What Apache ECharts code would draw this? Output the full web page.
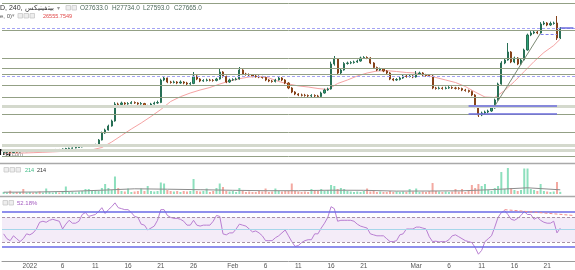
<!DOCTYPE html>
<html><head><meta charset="utf-8">
<script src="https://cdn.jsdelivr.net/npm/echarts/dist/echarts.min.js"></script>
<style>html,body{margin:0;padding:0;background:#fff}#c{width:575px;height:270px}</style>
</head><body><div id="c"></div><script>
// ---- data (12h candles, 28 Dec 2021 .. 23 Mar 2022) ----
const firstOpen = 15195;
const closes = [
15215,15235,15225,15265,15255,15315,15305,15335,15365,15345,
15385,15365,15415,15435,15465,15485,15515,15505,15565,15615,
15645,15665,15715,15765,15865,15915,15935,15965,16015,16465,
17165,17465,17865,18365,20065,20015,20165,20065,20115,20215,
20165,20065,20115,19815,19865,20065,20165,20215,22465,22665,
22265,22215,22265,22165,22265,22165,22065,22115,22865,22565,
22365,22415,22465,22435,22415,22565,23265,22815,22265,22465,
22505,22565,23465,23065,23015,22965,22865,22815,22765,22725,
22465,22365,22315,22465,22665,22465,22165,21665,21265,21065,
20965,20935,20915,20865,20915,20865,20815,21165,21465,21565,
24065,24565,23165,23465,24115,24165,24205,24265,24365,24665,
24715,24665,24165,23715,23465,23565,23365,23165,22565,22465,
22515,22665,22865,22815,22865,22765,23065,23165,22965,22915,
22865,21665,21615,21665,21615,21665,21715,21665,21635,21615,
21465,21415,21315,20965,19765,18965,19165,19265,19365,19665,
20465,22065,24165,24465,25265,24265,24665,24065,24465,25465,
26965,27165,27265,27165,28065,28165,27965,28115,28165,26665,
27665];
const highs = [
15295,15300,15290,15320,15310,15370,15360,15390,15420,15410,
15440,15430,15470,15490,15520,15540,15570,15570,15620,15680,
15700,15720,15780,15830,15930,15980,16000,16030,16090,16560,
17300,17600,18000,18500,20250,20200,20300,20250,20250,20350,
20320,20240,20260,20180,19980,20180,20300,20400,22600,22800,
22700,22380,22400,22350,22420,22350,22280,22250,23265,22950,
22650,22550,22600,22580,22560,22680,23565,23350,22900,22600,
22640,22700,23765,23550,23180,23120,23050,22980,22930,22880,
22800,22550,22480,22580,22800,22750,22550,22250,21750,21350,
21150,21100,21080,21020,21050,21030,20980,21300,21600,21700,
24300,24865,24650,23650,24250,24300,24350,24400,24500,24800,
24850,24830,24750,24250,23800,23700,23650,23450,23250,22650,
22650,22800,23000,22980,23000,22950,23365,23300,23250,23080,
23030,22950,21780,21800,21780,21800,21850,21830,21780,21760,
21700,21580,21500,21400,21050,19850,19300,19400,19500,19800,
20600,22200,24350,24600,26165,25350,24800,24750,24600,25600,
27100,27350,27450,27400,28250,28350,28250,28300,28300,28865,
27765];
const lows = [
15145,15170,15180,15190,15210,15220,15260,15270,15300,15300,
15310,15320,15330,15380,15400,15430,15450,15460,15470,15530,
15580,15600,15630,15680,15730,15820,15870,15890,15920,15980,
16420,17080,17400,17800,18300,19900,19950,19980,19990,20050,
20080,19980,19990,19700,19740,19800,20000,20080,20150,22350,
22150,22100,22120,22050,22080,22040,21950,21980,22050,22450,
22250,22280,22320,22330,22300,22330,22500,22700,22150,22180,
22380,22420,22500,22950,22900,22850,22750,22700,22650,22600,
22350,22250,22200,22220,22400,22350,22050,21550,21150,20950,
20850,20820,20800,20750,20760,20760,20700,20750,21100,21380,
21500,23900,23050,23050,23400,24000,24050,24100,24180,24300,
24580,24550,24050,23600,23350,23380,23250,23050,22450,22350,
22380,22420,22580,22700,22720,22650,22700,22980,22850,22800,
22750,21550,21500,21520,21500,21530,21580,21560,21520,21500,
21350,21300,21200,20850,19650,18765,18850,19050,19150,19280,
19600,20400,22000,24050,24400,24150,24150,23950,23980,24400,
25400,26850,27050,27050,27100,27950,27850,27880,28000,26465,
26565];
const volumes = [
200,150,330,150,200,200,500,150,200,150,
200,250,150,550,200,150,200,150,200,750,
200,200,150,250,300,500,500,300,400,300,
600,1000,600,400,1750,600,300,250,550,200,
250,300,550,300,800,300,250,300,1150,1050,
400,300,250,300,200,300,250,300,1500,300,
250,300,550,200,300,600,1050,700,300,250,
300,200,600,300,200,250,200,200,300,250,
550,200,250,550,300,250,300,300,1050,300,
250,200,250,200,500,400,300,500,300,400,
900,800,500,600,500,300,250,200,250,200,
300,550,250,300,200,250,200,200,300,200,
250,200,250,200,500,250,550,200,250,200,
300,1100,300,250,200,250,200,250,500,250,
500,200,300,900,600,1000,800,1000,400,300,
600,800,2200,500,2600,600,400,300,400,2550,
2550,500,400,300,1000,300,250,200,250,1200,
214];
const volMaIdx  = [0,10,20,30,40,50,60,70,80,90,100,110,120,130,140,150,160,170];
const volMaVals = [180,200,260,380,520,480,430,370,330,330,380,370,290,300,320,450,620,420];
const maIdx = [0,3,6,9,12,15,18,21,24,27,30,33,36,39,42,45,48,51,54,57,60,63,66,69,72,75,78,81,84,87,90,93,96,99,102,105,108,111,114,117,120,123,126,129,132,135,138,141,144,147,150,153,156,159,162,165,168,170];
const maVals = [15165,15165,15165,15195,15235,15275,15325,15375,15425,15485,15715,16265,16915,17565,18165,18815,19515,20315,20795,21165,21465,21715,22065,22365,22595,22765,22795,22675,22315,22065,21875,21765,21615,21515,22115,22465,22865,23165,23365,23395,23315,23215,23165,22965,22715,22465,22215,21815,21265,20765,20715,21415,22315,23315,24315,25215,25915,26555];
const rsiVals = [
43.1,35.4,32.3,40,35.4,30.8,35.4,43.1,41.5,44.6,
50.8,61.5,63.1,61.5,64.6,66.2,64.6,63.1,50.8,58.5,
64.6,60,60,63.1,73.8,76.9,70.8,72.3,73.8,78.5,
84.6,75.4,81.5,86.2,92.3,84.6,83.1,81.5,81.5,76.9,
70.8,69.2,58.5,56.9,49.2,52.3,55.4,64.6,81.5,81.5,
72.3,69.2,67.7,67.7,66.2,63.1,56.9,56.9,64.6,56.9,
55.4,56.9,56.9,56.9,63.1,72.3,70.8,43.1,41.5,44.6,
44.6,50.8,58.5,56.9,55.4,50.8,46.2,47.7,44.6,40,
32.3,32.3,32.3,36.9,40,44.6,49.2,40,30.8,23.1,
24.6,29.2,32.3,33.8,33.8,43.1,43.1,52.3,60,69.2,
86.2,83.1,63.1,64.6,64.6,64.6,64.6,63.1,58.5,55.4,
53.8,52.3,43.1,41.5,40,40,40,35.4,30.8,30.8,
32.3,41.5,43.1,50.8,50.8,50.8,53.8,53.8,52.3,50.8,
38.5,30.8,31.5,30.2,31,30.5,33.8,40,41.5,38.5,
35.4,32.3,30.8,29.2,21.5,10.8,16.9,30.8,35.4,40,
53.8,69.2,76.9,80,73.8,66.2,64.6,67.7,72.3,78.5,
73.8,73.8,66.2,69.2,64.6,61.5,60,60,63.1,44.6,
52.18];
const tickIdx  = [8,18,28,38,48,58,70,80,90,100,110,126,136,146,156,166];
const tickText = ['2022','6','11','16','21','26','Feb','6','11','16','21','Mar','6','11','16','21'];
const grayLevels  = [30165,27435,24635,23635,23065,21965,20695,19065,17265,14865];
const lightLevels = [19865,15965,15465];
const blueDashLevels = [27595,22865];
const blueSegments = [[142,169,19935],[142,169,19135],[170,174,27665]];
const blueDashSeg = [163.8,169.3,27035];
const trendLine = [[149.7,19865],[163.8,27165]];
const rsiBlueLevels = [78.1,23.4];
const rsiRedTrend = [[153,81.5],[174,72.3]];
const legend = {symbol:'D, 240, بیتفینیکس', o:'O27633.0', h:'H27734.0', l:'L27593.0', c:'C27665.0', ma:'26555.7549', vol:'214', volMa:'214', rsi:'52.18%'};

// ---- build ----
const NCAT = 175;
const cats = []; for (let i = 0; i < NCAT; i++) cats.push('c' + i);
const candles = closes.map((c, i) => [i === 0 ? firstOpen : closes[i-1], c, lows[i], highs[i]]);
const volData = volumes.map((v, i) => ({value: v, itemStyle: {color: candles[i][1] >= candles[i][0] ? '#8ddfbd' : '#f3a9a1'}}));
const FONT = '"Liberation Sans", Arial, sans-serif';

const mainLines = [];
grayLevels.forEach(p => mainLines.push({yAxis: p, lineStyle: {color: '#93a085', width: 1, type: 'solid'}}));
lightLevels.forEach(p => mainLines.push({yAxis: p, lineStyle: {color: '#d4d9cd', width: 3, type: 'solid'}}));
blueDashLevels.forEach(p => mainLines.push({yAxis: p, lineStyle: {color: '#a4a4f4', width: 1, type: [3,2]}}));
blueSegments.forEach(s => mainLines.push([{coord: [s[0], s[2]], lineStyle: {color: '#6c6cde', width: 1.5, type: 'solid'}}, {coord: [s[1], s[2]]}]));
mainLines.push([{coord: [blueDashSeg[0], blueDashSeg[2]], lineStyle: {color: '#8080ee', width: 1, type: [3,2]}}, {coord: [blueDashSeg[1], blueDashSeg[2]]}]);
mainLines.push([{coord: trendLine[0], lineStyle: {color: '#7c8a74', width: 1, type: 'solid'}}, {coord: trendLine[1]}]);

const rsiLines = [
  {yAxis: 70, lineStyle: {color: '#a892a6', width: 1, type: [3,2]}},
  {yAxis: 30, lineStyle: {color: '#a892a6', width: 1, type: [3,2]}},
  {yAxis: 50, lineStyle: {color: '#a6d6ea', width: 1, type: 'solid'}}
];
rsiBlueLevels.forEach(v => rsiLines.push({yAxis: v, lineStyle: {color: '#6a6ae6', width: 1.5, type: 'solid'}}));
rsiLines.push([{coord: rsiRedTrend[0], lineStyle: {color: '#f08a8a', width: 1, type: [3,2]}}, {coord: rsiRedTrend[1]}]);

function box(x, y) { return {type: 'rect', shape: {x: x, y: y - 2.5, width: 4.5, height: 4.5}, style: {fill: '#eeeeee', stroke: '#c8c8c8', lineWidth: 0.8}}; }
function txt(x, y, t, size, color, weight) { return {type: 'text', x: x, y: y, style: {text: t, fill: color, font: (weight || 'normal') + ' ' + size + 'px ' + FONT, textVerticalAlign: 'middle'}}; }

const chart = echarts.init(document.getElementById('c'), null, {renderer: 'canvas'});
chart.setOption({
  animation: false,
  backgroundColor: '#ffffff',
  grid: [
    {left: 2, right: 0, top: 0, bottom: 107},
    {left: 2, right: 0, top: 165, bottom: 76},
    {left: 2, right: 0, top: 198, bottom: 8}
  ],
  xAxis: [0,1,2].map(g => ({
    type: 'category', gridIndex: g, data: cats, boundaryGap: true,
    axisTick: {show: false}, splitLine: {show: false},
    axisLine: {show: g === 2, lineStyle: {color: '#9a9a9a', width: 1}},
    axisLabel: g === 2 ? {
      show: true, margin: 2, fontSize: 6.5, color: '#555', fontFamily: FONT,
      interval: (idx) => tickIdx.indexOf(idx) >= 0,
      formatter: (v, idx) => { const k = tickIdx.indexOf(idx); return k >= 0 ? tickText[k] : ''; }
    } : {show: false}
  })),
  yAxis: [
    {gridIndex: 0, min: 14165, max: 30465, show: false, splitLine: {show: false}},
    {gridIndex: 1, min: 0, max: 2900, show: false, splitLine: {show: false}},
    {gridIndex: 2, min: 0, max: 100, show: false, splitLine: {show: false}}
  ],
  series: [
    {type: 'line', xAxisIndex: 0, yAxisIndex: 0, data: maIdx.map((k, j) => [k, maVals[j]]), showSymbol: false,
     lineStyle: {color: '#f5a3a3', width: 1}, z: 2,
     markLine: {silent: true, symbol: ['none','none'], label: {show: false}, animation: false, data: mainLines}},
    {type: 'candlestick', xAxisIndex: 0, yAxisIndex: 0, data: candles, barMaxWidth: 2.4,
     itemStyle: {color: '#2ea277', color0: '#c9691f', borderColor: '#286f55', borderColor0: '#86431a', borderWidth: 1}, z: 4},
    {type: 'bar', xAxisIndex: 1, yAxisIndex: 1, data: volData, barMaxWidth: 2},
    {type: 'line', xAxisIndex: 1, yAxisIndex: 1, data: volMaIdx.map((k, j) => [k, volMaVals[j]]), showSymbol: false,
     lineStyle: {color: '#8c8c8c', width: 1}},
    {type: 'line', xAxisIndex: 2, yAxisIndex: 2, data: rsiVals, showSymbol: false,
     lineStyle: {color: '#b97fd2', width: 1}, z: 3,
     markArea: {silent: true, itemStyle: {color: 'rgba(170,110,200,0.13)'}, data: [[{yAxis: 30}, {yAxis: 70}]]},
     markLine: {silent: true, symbol: ['none','none'], label: {show: false}, data: rsiLines}}
  ],
  graphic: [
    {type: 'line', shape: {x1: 0, y1: 163.5, x2: 575, y2: 163.5}, style: {stroke: '#a9a9a9', lineWidth: 1.5}},
    {type: 'line', shape: {x1: 0, y1: 196.5, x2: 575, y2: 196.5}, style: {stroke: '#a9a9a9', lineWidth: 1.5}},
    txt(0, 8, legend.symbol, 7, '#333'),
    txt(57, 8, '▾', 6, '#999'),
    box(66, 8), box(72, 8),
    txt(80, 8, legend.o, 6.4, '#4d6a5b'),
    txt(112, 8, legend.h, 6.4, '#4d6a5b'),
    txt(143, 8, legend.l, 6.4, '#4d6a5b'),
    txt(174, 8, legend.c, 6.4, '#4d6a5b'),
    txt(0, 16, 'e, 0)', 6, '#555'),
    txt(12, 16, '▾', 5, '#999'),
    box(18, 16), box(24, 16), box(30, 16),
    txt(43, 16, legend.ma, 5.5, '#e04848'),
    box(4, 170), box(10, 170), box(16, 170),
    txt(25, 170, legend.vol, 5.5, '#3cba84'),
    txt(37, 170, legend.volMa, 5.5, '#333'),
    box(3, 203), box(9, 203),
    txt(17, 203, legend.rsi, 6, '#a45cc0'),
    txt(-1, 152, 'ng', 10, '#111', 'bold'),
    txt(10, 154, '.com', 6, '#888')
  ]
});
</script></body></html>
